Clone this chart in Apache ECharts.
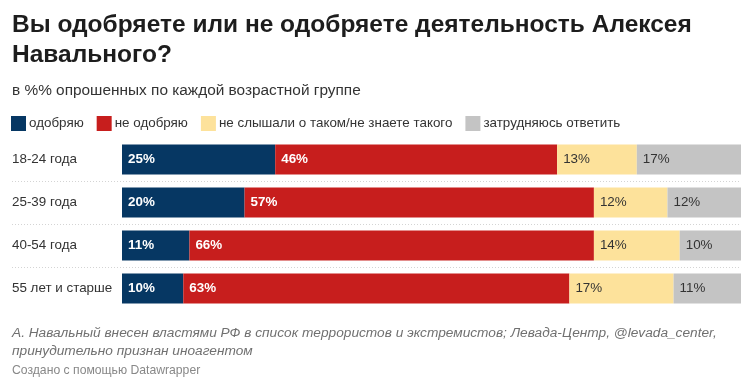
<!DOCTYPE html>
<html><head><meta charset="utf-8">
<script src="https://cdn.jsdelivr.net/npm/echarts@6/dist/echarts.min.js"></script>
<style>html,body{margin:0;padding:0;background:#fff}#c{width:750px;height:385px}</style>
</head><body><div id="c"></div>
<script>
const categories = ['18-24 года', '25-39 года', '40-54 года', '55 лет и старше'];
const seriesNames = ['одобряю', 'не одобряю', 'не слышали о таком/не знаете такого', 'затрудняюсь ответить'];
const approve = [25, 20, 11, 10];
const disapprove = [46, 57, 66, 63];
const notHeard = [13, 12, 14, 17];
const hardToSay = [17, 12, 10, 11];
const colors = ['#063763', '#c71e1d', '#fde29b', '#c4c4c4'];
const labelColors = ['#ffffff', '#ffffff', '#333333', '#333333'];
const labelWeights = ['bold', 'bold', 'normal', 'normal'];
const values = [approve, disapprove, notHeard, hardToSay];

const FONT = '"Liberation Sans", Arial, sans-serif';
const chart = echarts.init(document.getElementById('c'), null, {renderer: 'canvas'});
const option = {
  animation: false,
  textStyle: {fontFamily: FONT},
  title: [
    {text: 'Вы одобряете или не одобряете деятельность Алексея\nНавального?', left: 7, top: 5,
     textStyle: {fontFamily: FONT, fontSize: 24.5, fontWeight: 'bold', color: '#1d1d1d', lineHeight: 30}},
    {text: 'в %% опрошенных по каждой возрастной группе', left: 7, top: 78,
     textStyle: {fontFamily: FONT, fontSize: 15.4, fontWeight: 'normal', color: '#333'}},
    {text: 'А. Навальный внесен властями РФ в список террористов и экстремистов; Левада-Центр, @levada_center,\nпринудительно признан иноагентом', left: 7, top: 319,
     textStyle: {fontFamily: FONT, fontSize: 13.7, fontStyle: 'italic', fontWeight: 'normal', color: '#707070', lineHeight: 18}},
    {text: 'Создано с помощью Datawrapper', left: 7, top: 360,
     textStyle: {fontFamily: FONT, fontSize: 12.2, fontWeight: 'normal', color: '#888'}}
  ],
  legend: {
    left: 6, top: 111, icon: 'rect', itemWidth: 15, itemHeight: 15, itemGap: 13,
    textStyle: {fontFamily: FONT, fontSize: 13.4, color: '#333', padding: [0, 0, 0, -2]},
    selectedMode: false,
    data: seriesNames
  },
  grid: {left: 122, right: 9, top: 138, height: 172},
  xAxis: {type: 'value', min: 0, max: 101, show: false},
  yAxis: {
    type: 'category', data: categories, inverse: true,
    axisLine: {show: false}, axisTick: {show: false},
    axisLabel: {align: 'left', margin: 110, fontFamily: FONT, fontSize: 13.4, color: '#333'},
    splitLine: {show: false}
  },
  series: seriesNames.map((name, i) => ({
    name, type: 'bar', stack: 'all', barWidth: 30,
    data: values[i],
    itemStyle: {color: colors[i]},
    label: {show: true, position: 'insideLeft', offset: [1, 0], formatter: '{c}%',
            fontFamily: FONT, fontSize: 13.4, color: labelColors[i], fontWeight: labelWeights[i]}
  }))
};
chart.setOption(option);
// dotted separators between rows
const seps = [];
for (let k = 0; k < categories.length - 1; k++) {
  const y = Math.round((chart.convertToPixel({yAxisIndex: 0}, categories[k]) + chart.convertToPixel({yAxisIndex: 0}, categories[k + 1])) / 2) + 0.5;
  seps.push({type: 'line', shape: {x1: 12, y1: y, x2: 741, y2: y}, style: {stroke: '#d4d4d4', lineWidth: 1, lineDash: [1, 2]}, silent: true});
}
chart.setOption({graphic: seps});
</script></body></html>
